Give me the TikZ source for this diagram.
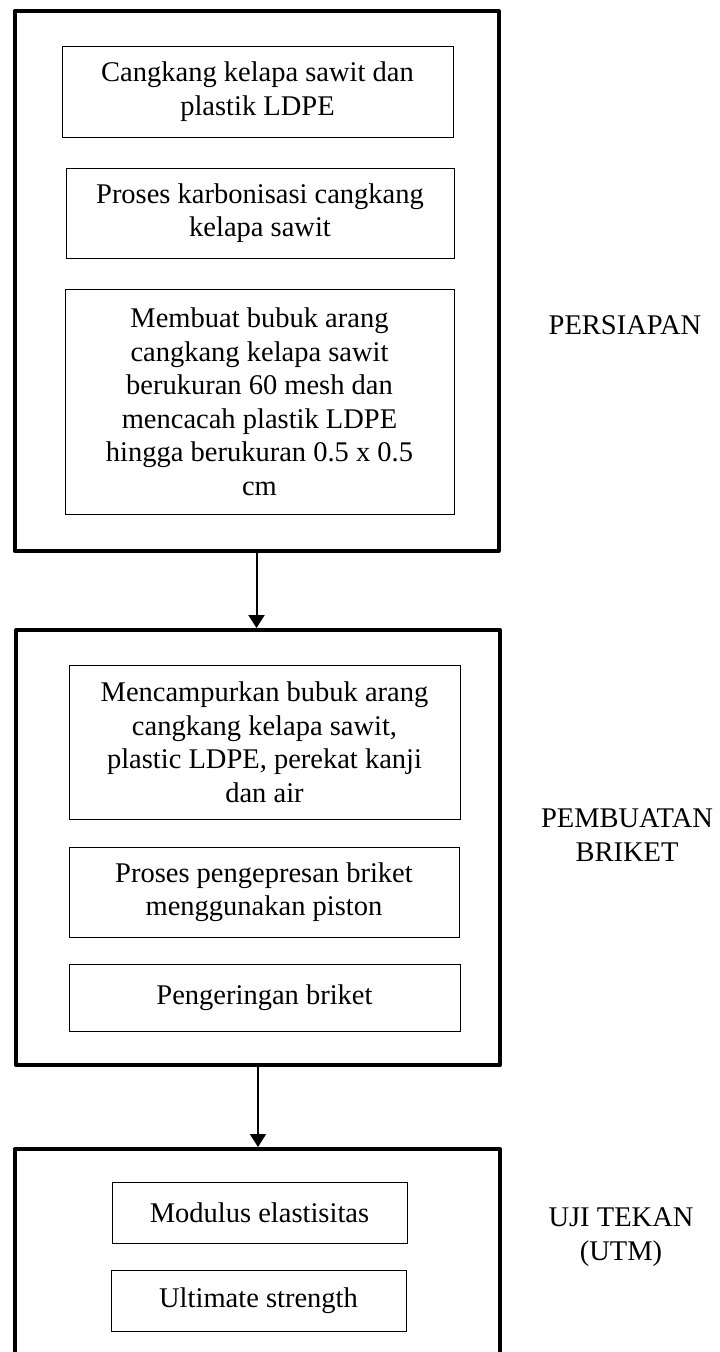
\documentclass[tikz,border=0pt]{standalone}
\usepackage{fontspec}
\setmainfont{Liberation Serif}
\usetikzlibrary{arrows.meta, positioning}

\begin{document}
\begin{tikzpicture}[
        x=1pt, y=-1pt,
        every node/.style={font=\fontsize{28.5}{33.5}\selectfont, align=center, inner sep=0pt},
        stagebox/.style={draw, line width=4pt, line join=round},
        textbox/.style={draw, line width=1pt},
        flow/.style={line width=2pt, -{Triangle[width=16pt,length=13pt]}},
    ]
    \useasboundingbox (0,0) rectangle (720,1352);
    \clip (0,0) rectangle (720,1352);
    % persiapan
    \node (s1) at (256.5,281) [stagebox, minimum width=484pt, minimum height=540pt] {};
    \node (a1) at (257.5,91.5) [textbox, minimum width=391pt, minimum height=91pt] {Cangkang kelapa sawit dan\\plastik LDPE};
    \node (a2) at (260,213) [textbox, minimum width=388pt, minimum height=90pt] {Proses karbonisasi cangkang\\kelapa sawit};
    \node (a3) at (259.5,401.5) [textbox, minimum width=389pt, minimum height=225pt] {Membuat bubuk arang\\cangkang kelapa sawit\\berukuran 60 mesh dan\\mencacah plastik LDPE\\hingga berukuran 0.5 x 0.5\\cm};
    \node (l1) at (625,325) {PERSIAPAN};
    % pembuatan briket
    \node (s2) at (258,847.5) [stagebox, minimum width=484pt, minimum height=435pt] {};
    \node (b1) at (264.5,742) [textbox, minimum width=391pt, minimum height=154pt] {Mencampurkan bubuk arang\\cangkang kelapa sawit,\\plastic LDPE, perekat kanji\\dan air};
    \node (b2) at (264,892) [textbox, minimum width=390pt, minimum height=90pt] {Proses pengepresan briket\\menggunakan piston};
    \node (b3) at (264.5,997.5) [textbox, minimum width=391pt, minimum height=67pt] {Pengeringan briket};
    \node (l2) at (627,835) {PEMBUATAN\\BRIKET};
    % uji tekan
    \node (s3) at (257.5,1284.5) [stagebox, minimum width=485pt, minimum height=271pt] {};
    \node (c1) at (259.5,1212.5) [textbox, minimum width=295pt, minimum height=61pt] {Modulus elastisitas};
    \node (c2) at (258.5,1300.5) [textbox, minimum width=295pt, minimum height=61pt] {Ultimate strength};
    \node (l3) at (621,1237) {UJI TEKAN\\(UTM)};

    \draw[flow] (s1.south) -- (s1.south |- s2.north);
    \draw[flow] (s2.south) -- (s2.south |- s3.north);
\end{tikzpicture}
\end{document}
